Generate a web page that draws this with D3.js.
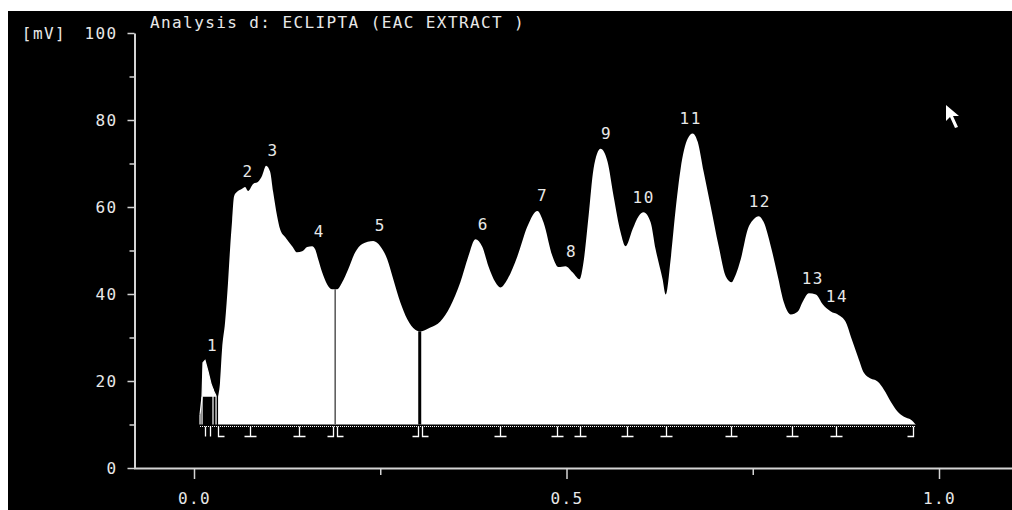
<!DOCTYPE html>
<html>
<head>
<meta charset="utf-8">
<script src="https://cdn.jsdelivr.net/npm/d3@7"></script>
<style>
  html, body { margin: 0; padding: 0; background: #ffffff; }
  svg { display: block; }
  text { font-family: "DejaVu Sans Mono", "Liberation Mono", monospace; font-size: 16px; letter-spacing: 1.4px; fill: #e8e8e8; }
</style>
</head>
<body>
<script>
// ---------- DATA ----------
const titleText = "Analysis d: ECLIPTA (EAC EXTRACT )";
const yUnitLabel = "[mV]";
const yMajorTicks = [0, 20, 40, 60, 80, 100];
const yMinorTicks = [10, 30, 50, 70, 90];
const xMajorTicks = [0.0, 0.5, 1.0];
const xMinorTicks = [0.25, 0.75];
const baselineMV = 10;

// peak 1 (small early spike)
const peak1Times  = [0.0081, 0.0108, 0.0121, 0.0148, 0.0188, 0.0228, 0.0269, 0.0296];
const peak1Values = [12.2, 16.4, 24.2, 24.7, 22.2, 19.4, 17.5, 16.6];
const peak1StemTimes  = [0.0081, 0.0108, 0.0255, 0.0296];
const peak1StemValues = [12.2, 16.4, 18.2, 16.6];

// main trace
const traceTimes = [0.0323,0.0349,0.0376,0.0417,0.0457,0.0484,0.0511,0.0538,0.0578,0.0645,0.0685,0.0726,0.0793,0.0860,0.0914,0.0968,0.1022,0.1062,0.1116,0.1156,0.1223,0.1317,0.1384,0.1452,0.1519,0.1586,0.1626,0.1667,0.1720,0.1788,0.1855,0.1922,0.1989,0.2070,0.2164,0.2258,0.2406,0.2500,0.2594,0.2675,0.2769,0.2863,0.2970,0.3038,0.3172,0.3306,0.3441,0.3575,0.3683,0.3777,0.3871,0.3952,0.4046,0.4113,0.4207,0.4341,0.4476,0.4610,0.4691,0.4812,0.4892,0.4987,0.5081,0.5175,0.5228,0.5296,0.5363,0.5457,0.5551,0.5632,0.5726,0.5793,0.5887,0.5968,0.6035,0.6129,0.6196,0.6290,0.6331,0.6398,0.6465,0.6532,0.6626,0.6694,0.6761,0.6841,0.6935,0.7043,0.7137,0.7218,0.7245,0.7339,0.7433,0.7513,0.7581,0.7648,0.7742,0.7836,0.7917,0.8011,0.8105,0.8172,0.8253,0.8347,0.8441,0.8548,0.8642,0.8750,0.8817,0.8911,0.8992,0.9059,0.9180,0.9261,0.9355,0.9449,0.9530,0.9624,0.9691];
const traceValues = [16.4,19.6,27.2,33.5,42.7,50.3,56.8,62.5,63.5,64.2,64.6,63.7,65.3,65.8,67.2,69.5,68.1,63.5,57.9,54.9,53.1,51.0,49.6,49.8,50.8,51.0,50.3,48.0,45.0,42.2,41.1,41.1,42.7,45.7,49.6,51.5,52.2,51.0,48.0,43.4,38.1,34.2,31.8,31.4,32.3,33.7,37.2,42.7,48.7,52.6,50.8,46.4,42.7,41.5,43.4,48.7,55.6,59.1,56.5,48.7,46.2,46.4,45.0,43.4,47.3,57.9,68.8,73.4,70.4,62.5,54.2,51.0,54.9,57.9,58.8,56.5,50.3,43.4,39.9,48.0,59.5,68.8,75.7,76.9,75.0,68.1,60.2,51.0,44.1,42.7,43.4,48.0,54.9,57.2,57.9,56.5,51.0,44.1,38.1,35.3,36.0,38.3,40.2,39.9,37.6,36.0,35.3,33.5,30.2,25.6,21.9,20.8,19.8,18.0,15.2,12.9,11.8,11.1,9.9];

// peak labels
const peakNames  = ["1","2","3","4","5","6","7","8","9","10","11","12","13","14"];
const peakTimes  = [0.0235,0.0712,0.1048,0.1667,0.2487,0.3871,0.4664,0.5054,0.5524,0.6022,0.6653,0.7581,0.8293,0.8616];
const peakApex   = [24.7,64.6,69.5,51.0,52.2,52.6,59.1,46.4,73.4,58.8,76.9,57.9,40.2,36.0];

// integration drop lines
const dropTimes  = [0.1895, 0.3030];
const dropValues = [41.1, 31.4];
const dropKinds  = ["thin", "thick"];

// baseline event markers
const markerTimes = [0.0148,0.0215,0.0323,0.0753,0.1411,0.1895,0.3030,0.4113,0.4879,0.5175,0.5806,0.6331,0.7204,0.8024,0.8616,0.9651];
const markerKinds = ["I","I","L","T","T","JL","JL","T","T","T","T","T","T","T","T","J"];

// ---------- DRAW ----------
const W = 1012, H = 510;
const svg = d3.select("body").append("svg").attr("width", W).attr("height", H);

svg.append("rect").attr("x", 8).attr("y", 11).attr("width", W - 8).attr("height", H - 11).attr("fill", "#000");

const x = d3.scaleLinear().domain([0, 1]).range([194, 939]);
const y = d3.scaleLinear().domain([0, 100]).range([468, 33]);
const axisColor = "#d4d4d4";

// trace fill
const pts = traceTimes.map((t, i) => ({ t, v: traceValues[i] }));
const area = d3.area().x(d => x(d.t)).y0(y(baselineMV)).y1(d => y(d.v)).curve(d3.curveMonotoneX);
svg.append("path").datum(pts).attr("d", area).attr("fill", "#fff");

// peak 1 tip
const p1 = peak1Times.map((t, i) => ({ t, v: peak1Values[i] }));
const area1 = d3.area().x(d => x(d.t)).y0(y(16.4)).y1(d => y(Math.max(d.v, 16.4))).curve(d3.curveLinear);
svg.append("path").datum(p1).attr("d", area1).attr("fill", "#fff");
svg.append("path").datum(p1).attr("d", d3.line().x(d => x(d.t)).y(d => y(d.v))).attr("fill", "none").attr("stroke", "#fff").attr("stroke-width", 1.2);
peak1StemTimes.forEach((t, i) => {
  svg.append("line").attr("x1", x(t)).attr("x2", x(t)).attr("y1", y(baselineMV)).attr("y2", y(peak1StemValues[i]))
    .attr("stroke", "#fff").attr("stroke-width", 1.2);
});

// drop lines
dropTimes.forEach((t, i) => {
  svg.append("line").attr("x1", x(t)).attr("x2", x(t)).attr("y1", y(baselineMV)).attr("y2", y(dropValues[i]))
    .attr("stroke", dropKinds[i] === "thin" ? "#555" : "#000")
    .attr("stroke-width", dropKinds[i] === "thin" ? 1.5 : 3);
});

// dotted baseline
const by = Math.round(y(baselineMV)) + 0.5;
svg.append("line").attr("x1", x(peak1Times[0])).attr("x2", x(traceTimes[traceTimes.length - 1]))
  .attr("y1", by).attr("y2", by).attr("stroke", "#000").attr("stroke-width", 1).attr("stroke-dasharray", "1,1");
svg.append("line").attr("x1", x(peak1Times[0])).attr("x2", x(traceTimes[traceTimes.length - 1]))
  .attr("y1", by + 1).attr("y2", by + 1).attr("stroke", "#fff").attr("stroke-width", 1).attr("stroke-dasharray", "1,1");

// markers
const mg = svg.append("g").attr("stroke", "#fff").attr("stroke-width", 1.3).attr("fill", "none");
const mTop = by + 1, mBot = by + 11;
markerTimes.forEach((t, i) => {
  const cx = Math.round(x(t)) + 0.5, k = markerKinds[i];
  if (k === "I") {
    mg.append("path").attr("d", `M${cx},${mTop}V${mBot}`);
  } else if (k === "T") {
    mg.append("path").attr("d", `M${cx},${mTop}V${mBot}M${cx - 6},${mBot}H${cx + 6}`);
  } else if (k === "L") {
    mg.append("path").attr("d", `M${cx},${mTop}V${mBot}H${cx + 6}`);
  } else if (k === "J") {
    mg.append("path").attr("d", `M${cx},${mTop}V${mBot}H${cx - 6}`);
  } else if (k === "JL") {
    mg.append("path").attr("d", `M${cx - 2},${mTop}V${mBot}H${cx - 8}M${cx + 2},${mTop}V${mBot}H${cx + 8}`);
  }
});

// peak labels
svg.append("g").selectAll("text").data(peakNames).join("text")
  .attr("x", (d, i) => x(peakTimes[i]) + 1)
  .attr("y", (d, i) => y(peakApex[i]) - 15)
  .attr("text-anchor", "middle").attr("dominant-baseline", "central")
  .text(d => d);

// Y axis
const yAxis = d3.axisLeft(y).tickValues(yMajorTicks).tickSize(7).tickSizeOuter(0).tickPadding(10).tickFormat(d3.format("d"));
const gy = svg.append("g").attr("transform", "translate(134.5,0)").call(yAxis);
gy.attr("font-size", null).attr("font-family", null);
gy.select(".domain").attr("stroke", axisColor).attr("stroke-width", 2);
gy.selectAll(".tick line").attr("stroke", axisColor).attr("stroke-width", 1.5);
gy.selectAll(".tick text").attr("fill", "#e8e8e8").attr("dy", "0.35em");
const gy2 = svg.append("g").attr("transform", "translate(134.5,0)").call(d3.axisLeft(y).tickValues(yMinorTicks).tickSize(5).tickFormat(""));
gy2.select(".domain").remove();
gy2.selectAll(".tick line").attr("stroke", axisColor).attr("stroke-width", 1.5);

// [mV] unit label placed left of the top tick label
svg.append("text").attr("x", 66).attr("y", y(100)).attr("text-anchor", "end").attr("dominant-baseline", "central").text(yUnitLabel);

// X axis
svg.append("line").attr("x1", 134).attr("x2", W).attr("y1", 468.5).attr("y2", 468.5).attr("stroke", axisColor).attr("stroke-width", 2);
const gx = svg.append("g").attr("transform", "translate(0,469)")
  .call(d3.axisBottom(x).tickValues(xMajorTicks).tickSize(10).tickPadding(14).tickFormat(d3.format(".1f")));
gx.attr("font-size", null).attr("font-family", null);
gx.select(".domain").remove();
gx.selectAll(".tick line").attr("stroke", axisColor).attr("stroke-width", 1.5);
gx.selectAll(".tick text").attr("fill", "#e8e8e8").attr("dy", "0.71em");
const gx2 = svg.append("g").attr("transform", "translate(0,469)")
  .call(d3.axisBottom(x).tickValues(xMinorTicks).tickSize(6).tickFormat(""));
gx2.select(".domain").remove();
gx2.selectAll(".tick line").attr("stroke", axisColor).attr("stroke-width", 1.5);

// title
svg.append("text").attr("x", 150).attr("y", 28).text(titleText);

// mouse pointer
svg.append("path")
  .attr("d", "M946,105 L946,121 L950,117 L955,128 L958,127 L953,116 L959,116 Z")
  .attr("fill", "#fff");
</script>
</body>
</html>
